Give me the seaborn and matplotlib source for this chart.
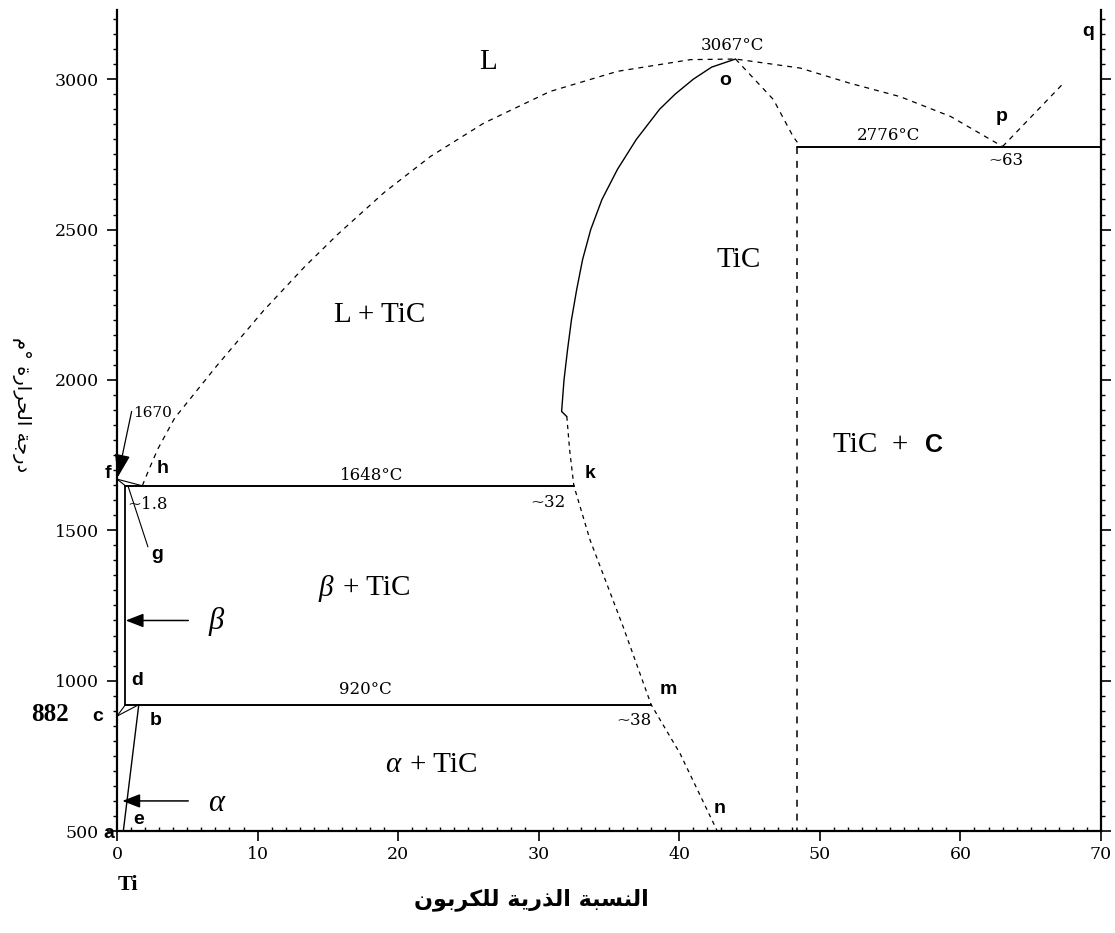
import matplotlib
matplotlib.use("Agg")
import matplotlib.pyplot as plt
from matplotlib.ticker import MultipleLocator
import seaborn as sns

# ---------------- Ti–C phase diagram data (at.% C, °C) ----------------
liquidus_x = [1.8, 2.3, 2.9, 4.1, 7.1, 10.4, 13.3, 15.7, 19.0, 22.3, 26.1,
              30.8, 35.6, 40.8, 44.0, 48.6, 52.1, 55.7, 59.3, 63.0]
liquidus_y = [1648, 1705, 1770, 1873, 2047, 2229, 2374, 2484, 2623, 2743, 2854,
              2959, 3026, 3065, 3067, 3037, 2987, 2942, 2876, 2776]
graphite_liq_x = [63.0, 67.3]
graphite_liq_y = [2776, 2985]

tic_solidus_x = [31.63, 31.8, 32.05, 32.33, 32.7, 33.12, 33.7, 34.5, 35.6,
                 36.95, 38.6, 39.7, 41.0, 42.3, 44.0]
tic_solidus_y = [1895, 2000, 2100, 2200, 2300, 2400, 2500, 2600, 2700,
                 2800, 2900, 2950, 3000, 3040, 3067]
tic_jog_x = [31.63, 32.0]
tic_jog_y = [1895, 1878]
tic_solvus_x = [32.0, 32.2, 32.5, 33.65, 36.0, 38.0, 40.05, 42.7]
tic_solvus_y = [1878, 1767, 1648, 1468, 1180, 920, 758, 500]
tic_right_x = [44.0, 46.7, 48.1, 48.4]
tic_right_y = [3067, 2932, 2809, 2790]
tic_carbon_x = [48.4, 48.4]
tic_carbon_y = [2776, 500]

# invariant lines
eutectic_x = [0.6, 32.5]
eutectic_y = [1648, 1648]
eutectoid_x = [0.6, 38.0]
eutectoid_y = [920, 920]
carbon_eutectic_x = [48.4, 70.0]
carbon_eutectic_y = [2776, 2776]

# titanium-rich corner
beta_solvus_x = [0.6, 0.6]
beta_solvus_y = [1648, 920]
f_solidus_x = [0.0, 0.6]
f_solidus_y = [1670, 1648]
f_liquidus_x = [0.0, 1.8]
f_liquidus_y = [1670, 1648]
c_beta_x = [0.0, 0.6]
c_beta_y = [882, 920]
c_alpha_x = [0.0, 1.55]
c_alpha_y = [882, 920]
alpha_solvus_x = [1.55, 0.45]
alpha_solvus_y = [920, 500]
g_leader_x = [0.8, 2.2]
g_leader_y = [1645, 1445]

x_ticks = [0, 10, 20, 30, 40, 50, 60, 70]
y_ticks = [500, 1000, 1500, 2000, 2500, 3000]

x_title = "النسبة الذرية للكربون"
y_title = "درجة الحرارة °م"

# ---------------- minimal Arabic contextual shaping ----------------
# isolated, final, initial, medial presentation forms
FORMS = {
    "ا": ("\uFE8D", "\uFE8E", None, None),
    "ب": ("\uFE8F", "\uFE90", "\uFE91", "\uFE92"),
    "ة": ("\uFE93", "\uFE94", None, None),
    "ج": ("\uFE9D", "\uFE9E", "\uFE9F", "\uFEA0"),
    "ح": ("\uFEA1", "\uFEA2", "\uFEA3", "\uFEA4"),
    "د": ("\uFEA9", "\uFEAA", None, None),
    "ذ": ("\uFEAB", "\uFEAC", None, None),
    "ر": ("\uFEAD", "\uFEAE", None, None),
    "س": ("\uFEB1", "\uFEB2", "\uFEB3", "\uFEB4"),
    "ك": ("\uFED9", "\uFEDA", "\uFEDB", "\uFEDC"),
    "ل": ("\uFEDD", "\uFEDE", "\uFEDF", "\uFEE0"),
    "م": ("\uFEE1", "\uFEE2", "\uFEE3", "\uFEE4"),
    "ن": ("\uFEE5", "\uFEE6", "\uFEE7", "\uFEE8"),
    "و": ("\uFEED", "\uFEEE", None, None),
    "ي": ("\uFEF1", "\uFEF2", "\uFEF3", "\uFEF4"),
}


def shape_arabic(text):
    out = []
    for i, ch in enumerate(text):
        if ch not in FORMS:
            out.append(ch)
            continue
        iso, fin, ini, med = FORMS[ch]
        prev = text[i - 1] if i > 0 else None
        nxt = text[i + 1] if i + 1 < len(text) else None
        join_prev = prev in FORMS and FORMS[prev][2] is not None
        join_next = ini is not None and nxt in FORMS
        if join_prev and join_next:
            out.append(med)
        elif join_prev:
            out.append(fin)
        elif join_next:
            out.append(ini)
        else:
            out.append(iso)
    return "".join(reversed(out))


# ---------------- figure ----------------
sns.set_theme(style="ticks")
plt.rcParams["font.family"] = ["DejaVu Serif", "DejaVu Sans"]
plt.rcParams["lines.scale_dashes"] = False

fig = plt.figure(figsize=(11.15, 9.33), dpi=100)
fig.patch.set_facecolor("white")
ax = fig.add_axes([0.10493, 0.10932, 0.88251, 0.87996])
ax.set_facecolor("white")

K = "black"


def draw(xs, ys, lw=0.9, ls="-"):
    sns.lineplot(x=xs, y=ys, sort=False, estimator=None, ax=ax, color=K,
                 linewidth=lw, linestyle=ls)


DASH = (0, (3.6, 3.6))
SMALL_DASH = (0, (3.0, 3.0))
LONG_DASH = (0, (5.0, 5.0))

draw(liquidus_x, liquidus_y, ls=DASH)
draw(graphite_liq_x, graphite_liq_y, ls=DASH)
draw(tic_solidus_x, tic_solidus_y, lw=1.0)
draw(tic_jog_x, tic_jog_y, lw=1.0)
draw(tic_solvus_x, tic_solvus_y, ls=SMALL_DASH)
draw(tic_right_x, tic_right_y, ls=DASH)
draw(tic_carbon_x, tic_carbon_y, lw=1.1, ls=LONG_DASH)

draw(eutectic_x, eutectic_y, lw=1.4)
draw(eutectoid_x, eutectoid_y, lw=1.4)
draw(carbon_eutectic_x, carbon_eutectic_y, lw=1.4)

draw(beta_solvus_x, beta_solvus_y, lw=1.3)
draw(f_solidus_x, f_solidus_y, lw=0.8)
draw(f_liquidus_x, f_liquidus_y, lw=0.8)
draw(c_beta_x, c_beta_y, lw=0.8)
draw(c_alpha_x, c_alpha_y, lw=0.8)
draw(alpha_solvus_x, alpha_solvus_y, lw=1.0)
draw(g_leader_x, g_leader_y, lw=0.8)

# phase pointers
arrow_kw = dict(arrowstyle="-|>,head_length=0.9,head_width=0.35",
                color=K, lw=1.1, mutation_scale=12, shrinkA=0, shrinkB=0)
ax.annotate("", xy=(0.62, 1200), xytext=(5.07, 1200), arrowprops=arrow_kw)
ax.annotate("", xy=(0.38, 600), xytext=(5.07, 600), arrowprops=arrow_kw)
ax.annotate("", xy=(0.05, 1676), xytext=(1.04, 1895),
            arrowprops=dict(arrowstyle="-|>,head_length=1.2,head_width=0.4",
                            color=K, lw=0.9, mutation_scale=12,
                            shrinkA=0, shrinkB=0))

# axes, ticks
ax.set_xlim(0, 70)
ax.set_ylim(500, 3230)
ax.set_xticks(x_ticks)
ax.set_yticks(y_ticks)
ax.xaxis.set_minor_locator(MultipleLocator(1))
ax.yaxis.set_minor_locator(MultipleLocator(50))
for side in ("left", "bottom", "right"):
    ax.spines[side].set_linewidth(1.6)
    ax.spines[side].set_color(K)
ax.spines["top"].set_visible(False)
ax.tick_params(axis="x", which="major", direction="out", length=7, width=1.2,
               labelsize=12.5, pad=4, colors=K)
ax.tick_params(axis="x", which="minor", direction="in", length=3, width=1.0,
               colors=K)
ax.tick_params(axis="y", which="major", direction="out", length=7, width=1.2,
               labelsize=12.5, pad=6, left=True, right=True, colors=K)
ax.tick_params(axis="y", which="minor", direction="out", length=3, width=1.0,
               left=True, right=True, colors=K)
ax.set_xlabel("")
ax.set_ylabel("")
ax.grid(False)

# region labels
region = dict(family="Liberation Serif", fontsize=21, color=K,
              ha="center", va="center")
ax.text(26.4, 3058, "L", **region)
ax.text(18.7, 2217, "L + TiC", **region)
ax.text(44.2, 2400, "TiC", **region)
ax.text(50.9, 1783, "TiC  +", family="Liberation Serif", fontsize=21,
        color=K, ha="left", va="center")
ax.text(57.5, 1783, "C", family="Liberation Sans", fontweight="bold",
        fontsize=18, color=K, ha="left", va="center")
ax.text(14.87, 1308, "β", family="Liberation Serif", fontstyle="italic",
        fontsize=21, color=K, ha="center", va="center")
ax.text(16.1, 1308, "+ TiC", family="Liberation Serif", fontsize=21,
        color=K, ha="left", va="center")
ax.text(19.6, 720, "α", family="Liberation Serif", fontstyle="italic",
        fontsize=21, color=K, ha="center", va="center")
ax.text(20.85, 720, "+ TiC", family="Liberation Serif", fontsize=21,
        color=K, ha="left", va="center")
ax.text(7.04, 1195, "β", family="Liberation Serif", fontstyle="italic",
        fontsize=22, color=K, ha="center", va="center")
ax.text(7.04, 593, "α", family="Liberation Serif", fontstyle="italic",
        fontsize=22, color=K, ha="center", va="center")

# invariant temperatures and compositions
num = dict(family="DejaVu Serif", fontsize=12, color=K, ha="center",
           va="center")
ax.text(43.8, 3113, "3067°C", **num)
ax.text(54.9, 2814, "2776°C", **num)
ax.text(63.2, 2731, "~63", **num)
ax.text(18.1, 1683, "1648°C", **num)
ax.text(30.66, 1594, "~32", **num)
ax.text(17.7, 969, "920°C", **num)
ax.text(36.8, 869, "~38", **num)
ax.text(2.2, 1587, "~1.8", **num)
ax.text(1.15, 1890, "1670", family="DejaVu Serif", fontsize=11, color=K,
        ha="left", va="center")

# point letters
pt = dict(family="Liberation Sans", fontweight="bold", fontsize=14, color=K,
          ha="center", va="center")
for lx, ly, s in [(-0.64, 1690, "f"), (3.27, 1707, "h"), (2.85, 1418, "g"),
                  (33.65, 1690, "k"), (1.42, 1002, "d"), (-1.35, 882, "c"),
                  (2.77, 869, "b"), (1.56, 537, "e"), (-0.55, 493, "a"),
                  (39.2, 969, "m"), (42.9, 576, "n"), (43.3, 2997, "o"),
                  (62.9, 2875, "p"), (69.1, 3157, "q")]:
    ax.text(lx, ly, s, **pt)

ax.text(-4.77, 886, "882", family="Liberation Serif", fontweight="bold",
        fontsize=18, color=K, ha="center", va="center")
ax.text(0.78, 320, "Ti", family="Liberation Serif", fontweight="bold",
        fontsize=16, color=K, ha="center", va="center")

# axis titles (Arabic)
fig.text(531.7 / 1115, 1 - 900 / 933, shape_arabic(x_title),
         family="DejaVu Sans", fontweight="bold", fontsize=16, color=K,
         ha="center", va="center")
fig.text(21 / 1115, 1 - 405 / 933, shape_arabic(y_title),
         family="DejaVu Sans", fontsize=14, color=K, rotation=270,
         ha="center", va="center")

fig.savefig("out.png", dpi=100, facecolor="white")
